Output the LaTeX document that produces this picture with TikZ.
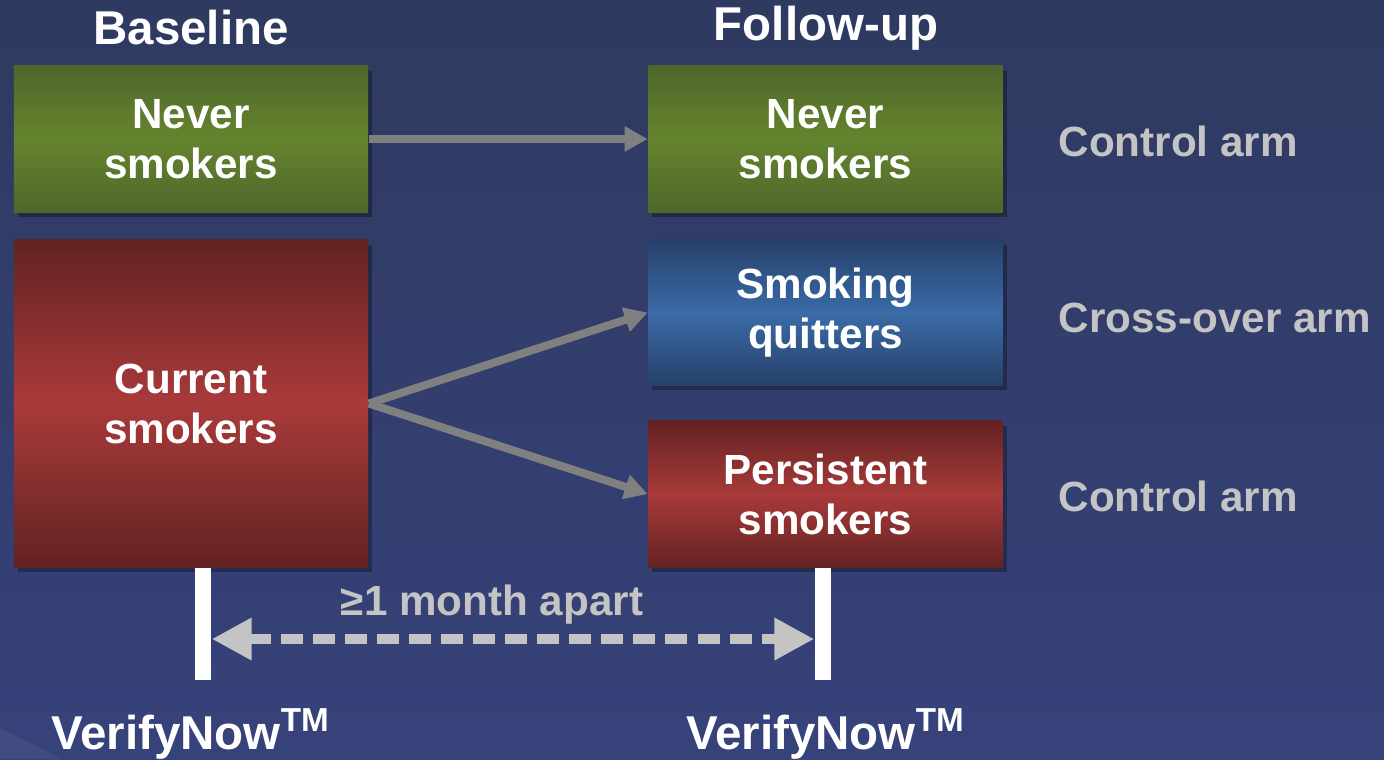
\documentclass[tikz,border=0pt]{standalone}
\usepackage{fontspec}
\setmainfont{Liberation Sans}
\usetikzlibrary{arrows.meta,shadows}

\definecolor{bgtop}{HTML}{2F3A60}
\definecolor{bgbot}{HTML}{36427A}
\definecolor{grnedge}{HTML}{4E672B}
\definecolor{grnmid}{HTML}{65842E}
\definecolor{rededge}{HTML}{632222}
\definecolor{redmid}{HTML}{A93A3A}
\definecolor{bluedge}{HTML}{26406A}
\definecolor{blumid}{HTML}{3B6BA7}
\definecolor{arrowgray}{HTML}{808080}
\definecolor{labelgray}{HTML}{C4C4C4}

\tikzset{
    box/.style={minimum width=3.54cm, inner sep=0pt, align=center, text=white,
        font=\fontsize{12}{14.2}\selectfont\bfseries,
        drop shadow={shadow xshift=0.04cm, shadow yshift=-0.05cm, fill=black, opacity=0.3}},
    greenbox/.style={box, top color=grnedge, bottom color=grnedge, middle color=grnmid},
    redbox/.style={box, top color=rededge, bottom color=rededge, middle color=redmid},
    bluebox/.style={box, top color=bluedge, bottom color=bluedge, middle color=blumid},
    header/.style={text=white, font=\fontsize{13.5}{16}\selectfont\bfseries},
    armlabel/.style={anchor=west, inner sep=0pt, text=labelgray, font=\fontsize{12}{14}\selectfont\bfseries},
    garrow/.style={draw=arrowgray, line width=0.08cm, -{Triangle[length=0.23cm, width=0.24cm]}},
    timebar/.style={fill=white, minimum width=0.16cm, minimum height=1.12cm, inner sep=0pt},
    gaparrow/.style={draw=labelgray, line width=0.1cm, dash pattern=on 0.22cm off 0.1cm,
        {Triangle[length=0.4cm, width=0.4cm]}-{Triangle[length=0.4cm, width=0.4cm]}}
}

\begin{document}
\begin{tikzpicture}[x=0.01cm, y=-0.01cm]
    % Background
    \fill[top color=bgtop, bottom color=bgbot] (0,0) rectangle (1384,759);
    \fill[white, opacity=0.05] (0,759) -- (0,728) .. controls (20,738) and (45,750) .. (62,759) -- cycle;
    \useasboundingbox (0,0) rectangle (1384,759);

    % Column headers
    \node[header] (hbase) at (191,28) {Baseline};
    \node[header] (hfollow) at (826,28) {Follow-up};

    % Baseline groups
    \node[greenbox, minimum height=1.46cm] (never0) at (191,139) {Never\\smokers};
    \node[redbox, minimum height=3.27cm] (current) at (191,403.5) {Current\\smokers};

    % Follow-up groups
    \node[greenbox, minimum height=1.46cm] (never1) at (825.5,139) {Never\\smokers};
    \node[bluebox, minimum height=1.45cm] (quit) at (825.5,312.5) {Smoking\\quitters};
    \node[redbox, minimum height=1.46cm] (persist) at (825.5,494) {Persistent\\smokers};

    % Arms
    \node[armlabel] (arm1) at (1058,141) {Control arm};
    \node[armlabel] (arm2) at (1058,318) {Cross-over arm};
    \node[armlabel] (arm3) at (1058,496) {Control arm};

    % Transitions
    \draw[garrow] (never0) -- (never1);
    \draw[garrow] (current.east) -- (quit.west);
    \draw[garrow] (current.east) -- (persist.west);

    % Time points
    \node[timebar] (barL) at (203,624) {};
    \node[timebar] (barR) at (823,624) {};
    \draw[gaparrow] ([yshift=-0.15cm]barL.east) -- ([yshift=-0.15cm]barR.west);
    \node[text=labelgray, font=\fontsize{12}{14}\selectfont\bfseries] (gap) at (492,605) {≥1 month apart};

    % Test labels
    \node[header] (testL) at (191,734) {VerifyNow\textsuperscript{TM}};
    \node[header] (testR) at (826,734) {VerifyNow\textsuperscript{TM}};
\end{tikzpicture}
\end{document}
